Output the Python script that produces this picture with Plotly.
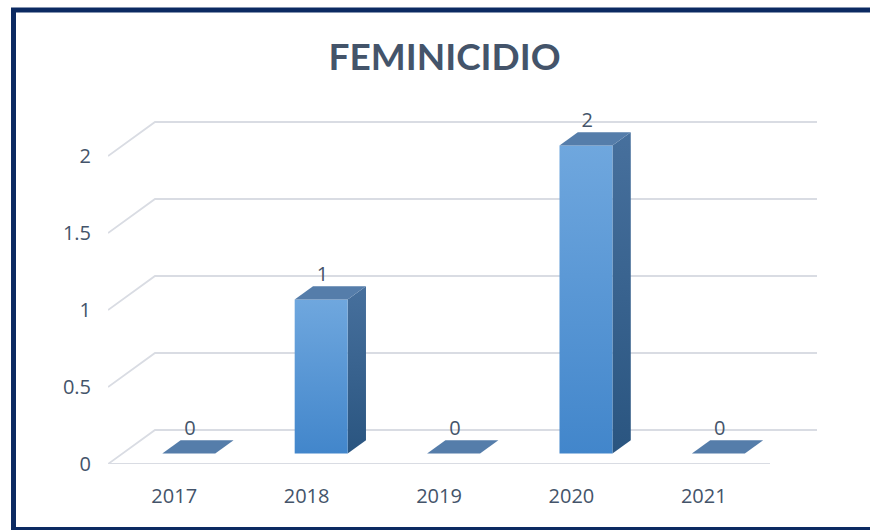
import plotly.graph_objects as go

# ---- data ----
categories = ["2017", "2018", "2019", "2020", "2021"]
values = [0, 1, 0, 2, 0]
y_ticks = [0, 0.5, 1, 1.5, 2]
y_tick_labels = ["0", "0.5", "1", "1.5", "2"]
title_text = "FEMINICIDIO"

# ---- pseudo-3D geometry (axis units) ----
W, H = 870, 530
ML, MR, MT, MB = 108, 52, 100, 66
px_per_cat = 132.4
px_per_unit = 154.0
x_lo = -0.5
x_hi = x_lo + (W - ML - MR) / px_per_cat
y_hi = (H - MB - MT) / px_per_unit
DX = 47 / px_per_cat       # depth offset, x
DY = 34 / px_per_unit      # depth offset, y
T1, T2 = 0.31, 0.70        # bar front/back depth fractions
BW = 0.40                  # bar width (category units)

grid_col = "#d9dce3"
text_col = "#44546a"

fig = go.Figure()

# gridlines (front-left diagonal + back wall)
n = len(categories)
for v in y_ticks:
    fig.add_trace(go.Scatter(
        x=[x_lo, x_lo + DX, x_lo + n + DX],
        y=[v, v + DY, v + DY],
        mode="lines", line=dict(color=grid_col, width=1.8),
        hoverinfo="skip", showlegend=False))
# front floor edge
fig.add_trace(go.Scatter(
    x=[x_lo, x_lo + n], y=[0, 0],
    mode="lines", line=dict(color=grid_col, width=1.8),
    hoverinfo="skip", showlegend=False))

ddx = (T2 - T1) * DX
ddy = (T2 - T1) * DY
base = T1 * DY
for i, v in enumerate(values):
    a = i + T1 * DX - BW / 2
    b = a + BW
    top = base + v
    if v > 0:
        # side face
        fig.add_trace(go.Scatter(
            x=[b, b + ddx, b + ddx, b, b],
            y=[base, base + ddy, top + ddy, top, base],
            fill="toself", mode="lines", line=dict(width=0, color="#2f5c88"),
            fillgradient=dict(type="vertical",
                              colorscale=[[0, "#2a5580"], [1, "#47709d"]]),
            hoverinfo="skip", showlegend=False))
        # front face
        fig.add_trace(go.Scatter(
            x=[a, b, b, a, a],
            y=[base, base, top, top, base],
            fill="toself", mode="lines", line=dict(width=0, color="#5a9ad6"),
            fillgradient=dict(type="vertical",
                              colorscale=[[0, "#4286cb"], [1, "#6fa7de"]]),
            hoverinfo="skip", showlegend=False))
    # top face
    fig.add_trace(go.Scatter(
        x=[a, b, b + ddx, a + ddx, a],
        y=[top, top, top + ddy, top + ddy, top],
        fill="toself", mode="lines", line=dict(width=0, color="#527ca9"),
        fillcolor="#557daa",
        hoverinfo="skip", showlegend=False))

# data labels
fig.add_trace(go.Scatter(
    x=[i + T1 * DX + 0.01 for i in range(n)],
    y=[base + v + ddy for v in values],
    mode="text", text=[str(v) for v in values],
    textposition="top center",
    textfont=dict(family="Open Sans", size=20, color=text_col),
    hoverinfo="skip", showlegend=False))

# border
def px_x(p):
    return (p - ML) / (W - ML - MR)

def px_y(p):
    return (H - MB - p) / (H - MB - MT)

fig.add_shape(type="rect", xref="paper", yref="paper",
              x0=px_x(13.5), x1=px_x(876), y0=px_y(529.5), y1=px_y(10),
              line=dict(color="#0c2a62", width=5), fillcolor="rgba(0,0,0,0)",
              layer="above")

fig.update_layout(
    width=W, height=H,
    margin=dict(l=ML, r=MR, t=MT, b=MB),
    paper_bgcolor="white", plot_bgcolor="white",
    title=dict(text="<b>" + title_text + "</b>", x=0.511, xanchor="center",
               y=1 - 57 / H, yanchor="middle", yref="container",
               font=dict(family="Lato", size=37, color=text_col)),
    xaxis=dict(range=[x_lo, x_hi], tickvals=list(range(n)), ticktext=categories,
               showgrid=False, zeroline=False, showline=False, ticks="",
               ticklabelstandoff=18,
               tickfont=dict(family="Open Sans", size=20, color=text_col),
               fixedrange=True),
    yaxis=dict(range=[0, y_hi], tickvals=y_ticks, ticktext=y_tick_labels,
               showgrid=False, zeroline=False, showline=False, ticks="",
               ticklabelstandoff=16,
               tickfont=dict(family="Open Sans", size=20, color=text_col),
               fixedrange=True),
)

fig.write_html("out.html", config={"displayModeBar": False},
               post_script="document.body.style.margin='0';document.body.style.overflow='hidden';")
